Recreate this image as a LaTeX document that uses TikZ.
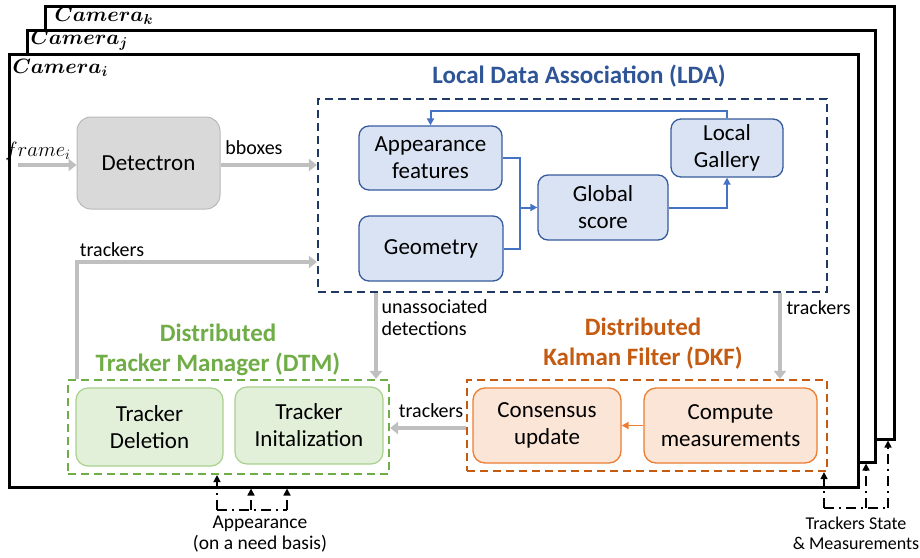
\documentclass[tikz,border=0pt]{standalone}
\usepackage{amssymb, amsfonts, amsmath}
\usepackage{fontspec}
\setmainfont{Carlito}
\usepackage{tikz}
\usetikzlibrary{arrows.meta}
\usetikzlibrary{calc}

\definecolor{ldanavy}{HTML}{1F3864}
\definecolor{ldatitle}{HTML}{2F5597}
\definecolor{ldafill}{HTML}{DAE3F3}
\definecolor{ldaline}{HTML}{4472C4}
\definecolor{dtmgreen}{HTML}{70AD47}
\definecolor{dtmfill}{HTML}{E2F0D9}
\definecolor{dtmline}{HTML}{A9D18E}
\definecolor{dkforange}{HTML}{C55A11}
\definecolor{dkffill}{HTML}{FBE5D6}
\definecolor{dkfline}{HTML}{ED7D31}
\definecolor{flowgray}{HTML}{BFBFBF}
\definecolor{detfill}{HTML}{D9D9D9}

\tikzset{
  camframe/.style={draw=black, fill=white, line width=2.5pt, anchor=north west, inner sep=0pt},
  camlabel/.style={anchor=west, font=\fontsize{20}{22}\selectfont\boldmath},
  groupbox/.style={dashed, dash pattern=on 8pt off 5pt, line width=2.2pt, inner sep=0pt},
  lda/.style={draw=ldaline!80!black, fill=ldafill, rounded corners=10pt, line width=1.3pt, align=center},
  dtm/.style={draw=dtmline, fill=dtmfill, rounded corners=12pt, line width=1.2pt, align=center},
  dkf/.style={draw=dkfline, fill=dkffill, rounded corners=12pt, line width=1.3pt, align=center},
  flow/.style={draw=flowgray, line width=4pt, -{Triangle[length=8pt,width=12pt]}},
  ldalink/.style={draw=ldaline, line width=2pt},
  siglink/.style={draw=black, line width=1.5pt, dash pattern=on 10pt off 5pt on 2pt off 5pt},
  sigtip/.style={-{Triangle[length=7pt,width=7pt]}},
  small/.style={font=\fontsize{20}{22}\selectfont},
  note/.style={font=\fontsize{18}{20}\selectfont, align=center},
  grouptitle/.style={font=\fontsize{25}{30}\selectfont\bfseries, align=center}
}

\begin{document}
\begin{tikzpicture}[x=1pt,y=-1pt, font=\fontsize{23}{27}\selectfont]
\useasboundingbox (0,0) rectangle (920,557);

\node[camframe, minimum width=849pt, minimum height=433pt] (camk) at (44,5) {};
\node[camlabel] (camklabel) at (51,16) {$Camera_k$};
\node[camframe, minimum width=848pt, minimum height=432pt] (camj) at (26,29) {};
\node[camlabel] (camjlabel) at (27,40) {$Camera_j$};
\node[camframe, minimum width=849pt, minimum height=433pt] (cami) at (8,53) {};
\node[camlabel] (camilabel) at (9,68) {$Camera_i$};

\node[groupbox, draw=ldanavy, minimum width=509pt, minimum height=193pt] (ldabox) at (572.5,195.5) {};
\node[groupbox, draw=dtmgreen, minimum width=321pt, minimum height=94pt] (dtmbox) at (228.5,427) {};
\node[groupbox, draw=dkforange, minimum width=360pt, minimum height=91pt] (dkfbox) at (647,425.5) {};

\node[grouptitle, text=ldatitle] (ldatitle) at (579,76) {Local Data Association (LDA)};
\node[grouptitle, text=dtmgreen] (dtmtitle) at (218,350) {Distributed\\Tracker Manager (DTM)};
\node[grouptitle, text=dkforange] (dkftitle) at (643,344) {Distributed\\Kalman Filter (DKF)};

\node[draw=gray!55, fill=detfill, rounded corners=14pt, line width=1pt, minimum width=143pt, minimum height=92pt] (det) at (148.5,163) {Detectron};

\node[lda, minimum width=143pt, minimum height=64pt] (app) at (430.5,158) {Appearance\\features};
\node[lda, minimum width=144pt, minimum height=65pt] (geo) at (431,248.5) {Geometry};
\node[lda, minimum width=130pt, minimum height=65pt] (glob) at (603,207.5) {Global\\score};
\node[lda, minimum width=112pt, minimum height=58pt] (gal) at (727,148) {Local\\Gallery};

\node[dtm, minimum width=147pt, minimum height=78pt] (tdel) at (149.5,427) {Tracker\\Deletion};
\node[dtm, minimum width=148pt, minimum height=77pt] (tinit) at (309,425.5) {Tracker\\Initalization};

\node[dkf, minimum width=148pt, minimum height=75pt] (cons) at (547,425.5) {Consensus\\update};
\node[dkf, minimum width=173pt, minimum height=75pt] (comp) at (730.5,425.5) {Compute\\measurements};

\node[font=\fontsize{21}{22}\selectfont] (frame) at (38,151) {$frame_i$};
\coordinate (framein) at (18,165);
\draw[flow] (framein) -- (framein -| det.west);

\draw[flow] (det.east |- framein) -- (framein -| ldabox.west);
\node[small] (bboxes) at (254,148) {bboxes};

\coordinate (trkturn) at (77,262);
\draw[flow] (trkturn |- dtmbox.north) -- (trkturn) -- (trkturn -| ldabox.west);
\node[small] (trkleft) at (112,250) {trackers};

\coordinate (unassoc) at (376,0);
\draw[flow] (unassoc |- ldabox.south) -- (unassoc |- dtmbox.north);
\node[small, anchor=north west, align=left] (unassoclabel) at (378,296) {unassociated\\detections};

\coordinate (trkdown) at (780,0);
\draw[flow] (trkdown |- ldabox.south) -- (trkdown |- dkfbox.north);
\node[small, anchor=west] (trkright) at (783,308) {trackers};

\coordinate (trkback) at (0,428);
\draw[flow] (trkback -| dkfbox.west) -- (trkback -| dtmbox.east);
\node[small] (trkmid) at (431,411) {trackers};

\draw[ldalink, -{Triangle[length=7pt,width=7pt]}] (app.east) -| ([xshift=-17pt]glob.west) -- (glob.west);
\draw[ldalink] (geo.east) -| ([xshift=-17pt]glob.west);
\draw[ldalink, -{Triangle[length=7pt,width=7pt]}] (glob.east) -| (gal.south);
\draw[ldalink, -{Triangle[length=7pt,width=7pt]}] (gal.north) -- ++(0,-7) -| (app.north);

\draw[draw=dkfline, line width=1.8pt, -{Triangle[length=7pt,width=7pt]}] (comp.west) -- (cons.east);

\coordinate (appa) at (217,510);
\coordinate (appb) at (251,510);
\coordinate (appc) at (287,510);
\draw[siglink] (appa) -- (appc);
\draw[siglink, sigtip] (appa) -- (appa |- dtmbox.south);
\draw[siglink, sigtip] (appb) -- (appb |- cami.south);
\draw[siglink, sigtip] (appc) -- (appc |- cami.south);
\node[note, font=\fontsize{19.5}{21}\selectfont] (appnote) at (260,534) {Appearance\\(on a need basis)};

\coordinate (tsa) at (824,508);
\coordinate (tsb) at (866,508);
\coordinate (tsc) at (888,508);
\draw[siglink] (tsa) -- (tsc);
\draw[siglink, sigtip] (tsa) -- (tsa |- dkfbox.south);
\draw[siglink, sigtip] (tsb) -- (tsb |- camj.south);
\draw[siglink, sigtip] (tsc) -- (tsc |- camk.south);
\node[note] (tsnote) at (856,533) {Trackers State\\\& Measurements};
\end{tikzpicture}
\end{document}
